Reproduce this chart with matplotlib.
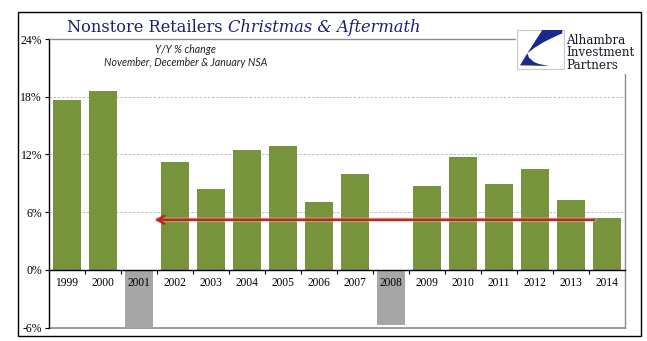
import numpy as np
import matplotlib.pyplot as plt
from matplotlib.patches import Rectangle, Polygon

years = ['1999', '2000', '2001', '2002', '2003', '2004', '2005', '2006',
         '2007', '2008', '2009', '2010', '2011', '2012', '2013', '2014']
yoy = [17.7, 18.6, -6.5, 11.2, 8.4, 12.5, 12.9, 7.1,
       10.0, -5.7, 8.7, 11.7, 8.9, 10.5, 7.3, 5.4]
recession = ['2001', '2008']
yticks = [-6, 0, 6, 12, 18, 24]
arrow_level = 5.2

green = '#77933C'
grey_bar = '#A6A6A6'
navy = '#1F1F6E'

fig = plt.figure(figsize=(6.47, 3.41), dpi=100)
W, H = 647, 341

# outer black frame
fig.patches.append(Rectangle((18 / W, 1 - 336 / H), 623 / W, 324 / H,
                             transform=fig.transFigure, fill=False,
                             edgecolor='black', linewidth=1.0, zorder=0))

ax = fig.add_axes([49 / W, 1 - 327.5 / H, 576 / W, 288.5 / H])
ax.set_axisbelow(False)
x = np.arange(len(years))
colors = [grey_bar if y in recession else green for y in years]
ax.bar(x, yoy, width=0.8, color=colors, zorder=2)

ax.set_xlim(-0.5, len(years) - 0.5)
ax.set_ylim(-6, 24)

# gridlines
for v in [6, 12, 18]:
    ax.axhline(v, color='#B0B0B0', linestyle=(0, (3, 2)), linewidth=0.6, zorder=1)

# spines
ax.spines['left'].set_color('black')
ax.spines['left'].set_linewidth(1.0)
ax.spines['bottom'].set_position(('data', 0))
ax.spines['bottom'].set_color('black')
ax.spines['bottom'].set_linewidth(1.0)
for s in ['top', 'right']:
    ax.spines[s].set_color('#8C8C8C')
    ax.spines[s].set_linewidth(1.0)
ax.axhline(-6, color='#8C8C8C', linewidth=1.2, clip_on=False, zorder=1)

ax.set_yticks(yticks)
ax.set_yticklabels([f'{v}%' for v in yticks], family='Liberation Serif', fontsize=8.5)
ax.tick_params(axis='y', direction='out', length=3, width=0.8, pad=2)

ax.set_xticks(x)
ax.set_xticklabels(years, family='Liberation Serif', fontsize=8.3)
ax.set_xticks(x[:-1] + 0.5, minor=True)
ax.tick_params(axis='x', which='major', length=0, pad=5)
ax.tick_params(axis='x', which='minor', direction='out', length=3, width=0.8)

# arrow back to 2002 levels
ax.annotate('', xy=(2.5, arrow_level), xytext=(14.64, arrow_level),
            arrowprops=dict(arrowstyle='-', color='#F2B8B2', lw=3.5, alpha=0.5,
                            shrinkA=0, shrinkB=0),
            zorder=4)
ax.annotate('', xy=(2.44, arrow_level), xytext=(14.64, arrow_level),
            arrowprops=dict(arrowstyle='->,head_length=0.5,head_width=0.28',
                            color='#B8281C', lw=1.8, shrinkA=0, shrinkB=0),
            zorder=5)

# title
r = fig.canvas.get_renderer()
t1 = fig.text(67 / W, 1 - 32 / H, 'Nonstore Retailers ', family='DejaVu Serif',
              fontsize=11.7, color=navy, va='baseline', ha='left')
bb = t1.get_window_extent(r)
fig.text(bb.x1 / W, 1 - 32 / H, 'Christmas & Aftermath', family='DejaVu Serif',
         style='italic', fontsize=11.7, color=navy, va='baseline', ha='left')

fig.text(185 / W, 1 - 49.5 / H, 'Y/Y % change', family='Lato', style='italic',
         fontsize=7.6, ha='center', va='center', color='#222222')
fig.text(186 / W, 1 - 63 / H, 'November, December & January NSA', family='Lato',
         style='italic', fontsize=7.6, ha='center', va='center', color='#222222')

# logo
lax = fig.add_axes([516 / W, 1 - 74 / H, 123 / W, 46 / H])
lax.set_xlim(0, 123)
lax.set_ylim(0, 46)
lax.axis('off')
lax.add_patch(Rectangle((0, 0), 123, 46, facecolor='white', edgecolor='none', zorder=0))
lax.add_patch(Rectangle((1, 5), 47, 39, facecolor='white', edgecolor='#C8C8C8',
                        linewidth=0.8, zorder=1))
wedge = [(25.3, 39), (45.3, 39), (45.3, 35.7), (35, 31), (27, 27), (18, 21.5), (10.3, 15.7)]
crescent = [(10.3, 15.7), (3, 3.7), (32, 3), (22, 5), (17, 7), (12, 11.3)]
lax.add_patch(Polygon([(a + 1, b + 5) for a, b in wedge],
                      closed=True, facecolor='#1A2A8C', edgecolor='none', zorder=2))
lax.add_patch(Polygon([(a + 1, b + 5) for a, b in crescent],
                      closed=True, facecolor='#1A2A8C', edgecolor='none', zorder=2))
lax.text(50, 21, 'Alhambra\nInvestment\nPartners', family='DejaVu Serif',
         fontsize=8.6, linespacing=0.92, va='center', ha='left', color='#1A1A2A', zorder=3)

fig.savefig('out.png', dpi=100)
